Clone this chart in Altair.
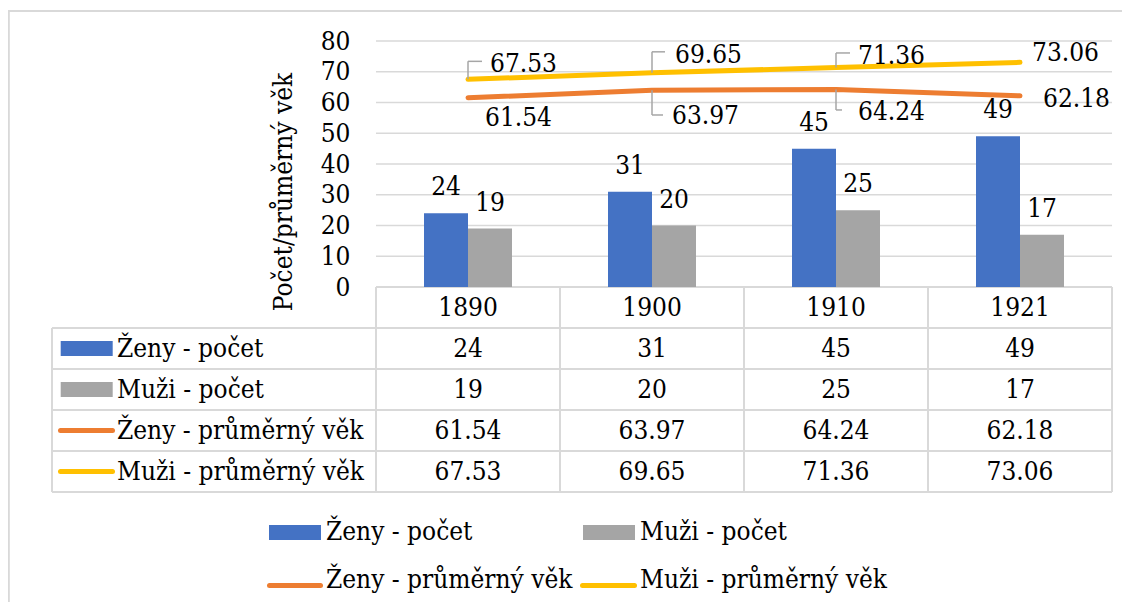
import altair as alt
import pandas as pd

# ---------------- data ----------------
years = ["1890", "1900", "1910", "1921"]
series_names = ["Ženy - počet", "Muži - počet", "Ženy - průměrný věk", "Muži - průměrný věk"]
zeny_pocet = [24, 31, 45, 49]
muzi_pocet = [19, 20, 25, 17]
zeny_vek = [61.54, 63.97, 64.24, 62.18]
muzi_vek = [67.53, 69.65, 71.36, 73.06]
y_ticks = [0, 10, 20, 30, 40, 50, 60, 70, 80]
y_title = "Počet/průměrný věk"

# ---------------- layout / style ----------------
FONT = "DejaVu Serif Condensed"
FS = 26
BLUE, GRAY, ORANGE, YELLOW = "#4472C4", "#A5A5A5", "#ED7D31", "#FFC000"
LINE_C = "#D9D9D9"
LEADER_C = "#A6A6A6"
W, H = 1114, 594
M = 8                      # page margin
PLOT_L, PLOT_R, PLOT_T, PLOT_B = 376, 1112, 41, 287
YMAX = 80
ncat = len(years)
CAT_W = (PLOT_R - PLOT_L) / ncat
PX_Y = (PLOT_B - PLOT_T) / YMAX
TBL_L = 52
ROW_H = 41
BAR_W = 44 / CAT_W


def xd(px):
    return (px - PLOT_L) / CAT_W - 0.5


def yd(py):
    return (PLOT_B - py) / PX_Y


xscale = alt.Scale(domain=[-0.5, ncat - 0.5], range=[PLOT_L - M, PLOT_R - M], nice=False, zero=False)
yscale = alt.Scale(domain=[0, YMAX], range=[PLOT_B - M, PLOT_T - M], nice=False, zero=False)
yaxis = alt.Axis(values=y_ticks, orient="left", offset=-(PLOT_L - M), domain=False, ticks=False,
                 tickSize=0, grid=False, labelFont=FONT, labelFontSize=FS, labelColor="black",
                 labelPadding=26, title=None)


def enc(ch, x2=False, y2=False, text=False):
    e = dict(x=alt.X("x:Q", scale=xscale, axis=None), y=alt.Y("y:Q", scale=yscale, axis=yaxis))
    if x2:
        e["x2"] = alt.X2("x2:Q")
    if y2:
        e["y2"] = alt.Y2("y2:Q")
    if text:
        e["text"] = alt.Text("label:N")
    return ch.encode(**e)


def segs(rows):
    return pd.DataFrame(rows, columns=["x", "x2", "y", "y2"])


layers = []

# outer frame
frame = segs([(xd(M), xd(M + W), yd(11), yd(11)), (xd(M + 0.8), xd(M + 0.8), yd(11), yd(M + H))])
layers.append(enc(alt.Chart(frame).mark_rule(color=LINE_C, strokeWidth=2), x2=True, y2=True))

# gridlines
grid = segs([(-0.5, ncat - 0.5, t, t) for t in y_ticks])
layers.append(enc(alt.Chart(grid).mark_rule(color=LINE_C, strokeWidth=1.5), x2=True, y2=True))

# data table borders
tb = []
for k in range(6):
    yy = yd(PLOT_B + ROW_H * k)
    tb.append((-0.5 if k == 0 else xd(TBL_L), ncat - 0.5, yy, yy))
tb.append((xd(TBL_L), xd(TBL_L), yd(PLOT_B + ROW_H), yd(PLOT_B + ROW_H * 5)))
for j in range(ncat + 1):
    tb.append((j - 0.5, j - 0.5, 0, yd(PLOT_B + ROW_H * 5)))
layers.append(enc(alt.Chart(segs(tb)).mark_rule(color=LINE_C, strokeWidth=2), x2=True, y2=True))

# bars
blue_df = pd.DataFrame({"x": [i - BAR_W for i in range(ncat)], "x2": list(range(ncat)),
                        "y": zeny_pocet, "y2": [0] * ncat})
gray_df = pd.DataFrame({"x": list(range(ncat)), "x2": [i + BAR_W for i in range(ncat)],
                        "y": muzi_pocet, "y2": [0] * ncat})
layers.append(enc(alt.Chart(blue_df).mark_rect(color=BLUE), x2=True, y2=True))
layers.append(enc(alt.Chart(gray_df).mark_rect(color=GRAY), x2=True, y2=True))

# bar labels
for vals, off in ((zeny_pocet, -BAR_W / 2), (muzi_pocet, BAR_W / 2)):
    d = pd.DataFrame({"x": [i + off for i in range(ncat)], "y": vals, "label": [str(v) for v in vals]})
    layers.append(enc(alt.Chart(d).mark_text(font=FONT, fontSize=FS, color="black", align="center",
                                             baseline="alphabetic", dy=-18), text=True))

# lines
for vals, col in ((zeny_vek, ORANGE), (muzi_vek, YELLOW)):
    d = pd.DataFrame({"x": list(range(ncat)), "y": vals})
    layers.append(enc(alt.Chart(d).mark_line(color=col, strokeWidth=5, strokeCap="round",
                                             strokeJoin="round")))

# line labels with leaders
label_layout = {
    "m": [(22, -7.6), (23, -9.5), (22, -3.3), (12, -1.6)],
    "z": [(17, 28.2), (20, 33.7), (22, 30.5), (23, 10.9)],
}
leader_layout = {("m", 0): (-18, 14), ("m", 1): (-21, 13), ("m", 2): (-14.6, 14),
                 ("z", 1): (24.7, 11), ("z", 2): (20.5, 6)}
vek = {"m": muzi_vek, "z": zeny_vek}
lead = []
for key, offs in label_layout.items():
    for i, (dx, dy) in enumerate(offs):
        v = vek[key][i]
        d = pd.DataFrame({"x": [i], "y": [v], "label": [f"{v:.2f}"]})
        layers.append(enc(alt.Chart(d).mark_text(font=FONT, fontSize=FS, color="black", align="left",
                                                 baseline="alphabetic", dx=dx, dy=dy), text=True))
        if (key, i) in leader_layout:
            ldy, llen = leader_layout[(key, i)]
            ye = v - ldy / PX_Y
            lead.append((i, i, v, ye))
            lead.append((i, i + llen / CAT_W, ye, ye))
layers.append(enc(alt.Chart(segs(lead)).mark_rule(color=LEADER_C, strokeWidth=1.5), x2=True, y2=True))

# table text
def row_c(r):
    return yd(PLOT_B + ROW_H * (r + 0.5))

cells = [(i, row_c(0), yr) for i, yr in enumerate(years)]
for r, (vals, fmt) in enumerate(((zeny_pocet, "{:d}"), (muzi_pocet, "{:d}"),
                                  (zeny_vek, "{:.2f}"), (muzi_vek, "{:.2f}")), start=1):
    for i, v in enumerate(vals):
        cells.append((i, row_c(r), fmt.format(v)))
cells_df = pd.DataFrame(cells, columns=["x", "y", "label"])
layers.append(enc(alt.Chart(cells_df).mark_text(font=FONT, fontSize=FS, color="black", align="center",
                                                baseline="middle"), text=True))

rowlab = pd.DataFrame({"x": [xd(117)] * 4, "y": [row_c(r) for r in range(1, 5)], "label": series_names})
layers.append(enc(alt.Chart(rowlab).mark_text(font=FONT, fontSize=FS, color="black", align="left",
                                              baseline="middle"), text=True))

# keys in table
key_rects = [(xd(60.7), xd(112.7), row_c(r) + 7.5 / PX_Y, row_c(r) - 7.5 / PX_Y, c)
             for r, c in ((1, BLUE), (2, GRAY))]
key_lines = [(xd(60.5), xd(112.5), row_c(r), row_c(r), c) for r, c in ((3, ORANGE), (4, YELLOW))]

# bottom legend
L1, L2 = 532.5, 585.5
key_rects += [(xd(269), xd(321), yd(L1 - 7.5), yd(L1 + 7.5), BLUE),
              (xd(583), xd(635), yd(L1 - 7.5), yd(L1 + 7.5), GRAY)]
key_lines += [(xd(269.5), xd(320.5), yd(L2), yd(L2), ORANGE),
              (xd(582.5), xd(634.5), yd(L2), yd(L2), YELLOW)]
for x0, x1, y0, y1, c in key_rects:
    layers.append(enc(alt.Chart(segs([(x0, x1, y0, y1)])).mark_rect(color=c), x2=True, y2=True))
for x0, x1, y0, y1, c in key_lines:
    layers.append(enc(alt.Chart(segs([(x0, x1, y0, y1)])).mark_rule(color=c, strokeWidth=5,
                                                                    strokeCap="round"), x2=True, y2=True))

leg_txt = pd.DataFrame({"x": [xd(326), xd(640), xd(326), xd(640)],
                        "y": [yd(532), yd(532), yd(580), yd(580)],
                        "label": series_names})
layers.append(enc(alt.Chart(leg_txt).mark_text(font=FONT, fontSize=FS, color="black", align="left",
                                               baseline="middle"), text=True))

# axis title
tdf = pd.DataFrame({"x": [xd(284)], "y": [yd(192)], "label": [y_title]})
layers.append(enc(alt.Chart(tdf).mark_text(font=FONT, fontSize=FS, color="black", align="center",
                                           baseline="middle", angle=270), text=True))

chart = alt.layer(*layers).properties(
    width=W, height=H, padding=0, autosize=alt.AutoSizeParams(type="none")
).configure_view(strokeWidth=0)

chart.save("out.html", embed_options={"renderer": "svg", "actions": False})
